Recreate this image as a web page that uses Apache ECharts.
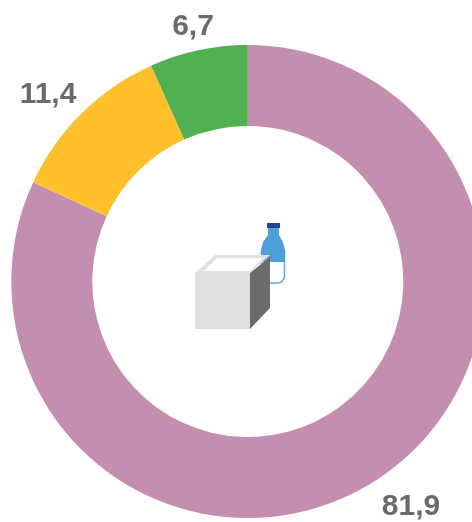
<!DOCTYPE html>
<html>
<head>
<meta charset="utf-8">
<style>html,body{margin:0;padding:0;background:#fff}#main{width:472px;height:522px}</style>
<script src="https://cdn.jsdelivr.net/npm/echarts@6/dist/echarts.min.js"></script>
</head>
<body>
<div id="main"></div>
<script>
var values = [81.9, 11.4, 6.7];
var colors = ['#c48eb0', '#ffc02c', '#50b052'];
// label centres
var labelPos = [[411, 507], [48, 95], [193, 27]];

var chart = echarts.init(document.getElementById('main'));

var seriesData = [];
for (var i = 0; i < values.length; i++) {
    seriesData.push({ value: values[i], itemStyle: { color: colors[i] } });
}

chart.setOption({
    animation: false,
    series: [{
        type: 'pie',
        center: [247.8, 281.5],
        radius: [155.5, 236.5],
        startAngle: 90,
        clockwise: true,
        silent: true,
        data: seriesData,
        label: {
            show: true,
            // inside: outside labels get cut short near the window edge
            position: 'inside',
            fontFamily: 'Liberation Sans',
            fontWeight: 'bold',
            fontSize: 30,
            color: '#6b6b6b',
            align: 'center',
            verticalAlign: 'middle',
            formatter: function (p) { return String(p.value).replace('.', ','); }
        },
        labelLine: { show: false },
        labelLayout: function (p) {
            return { x: labelPos[p.dataIndex][0], y: labelPos[p.dataIndex][1], align: 'center', verticalAlign: 'middle' };
        }
    }],
    // bottle and cube icon in the middle
    graphic: [
        { type: 'rect', z: 10, shape: { x: 261.5, y: 250, width: 23, height: 33, r: [0, 0, 7, 7] },
          style: { fill: '#ffffff', stroke: '#62a8dc', lineWidth: 1.5 } },
        { type: 'polygon', z: 11, shape: { points: [[268, 228], [279, 228], [279, 235], [283, 242], [285, 250], [285, 262], [261, 262], [261, 250], [263, 242], [268, 235]] },
          style: { fill: '#4f9fd9' } },
        { type: 'rect', z: 12, shape: { x: 267, y: 223, width: 13, height: 5 }, style: { fill: '#2b4491' } },
        { type: 'polygon', z: 13, shape: { points: [[195, 273], [215, 255], [270, 255], [250, 273]] }, style: { fill: '#e2e1df' } },
        { type: 'polygon', z: 14, shape: { points: [[204, 271], [217, 258], [263, 258], [250, 271]] }, style: { fill: '#ffffff' } },
        { type: 'rect', z: 14, shape: { x: 195, y: 273, width: 55, height: 56 }, style: { fill: '#e0dfdd' } },
        { type: 'polygon', z: 14, shape: { points: [[250, 273], [270, 257], [270, 308], [250, 329]] }, style: { fill: '#6b6b6a' } }
    ]
});
</script>
</body>
</html>
